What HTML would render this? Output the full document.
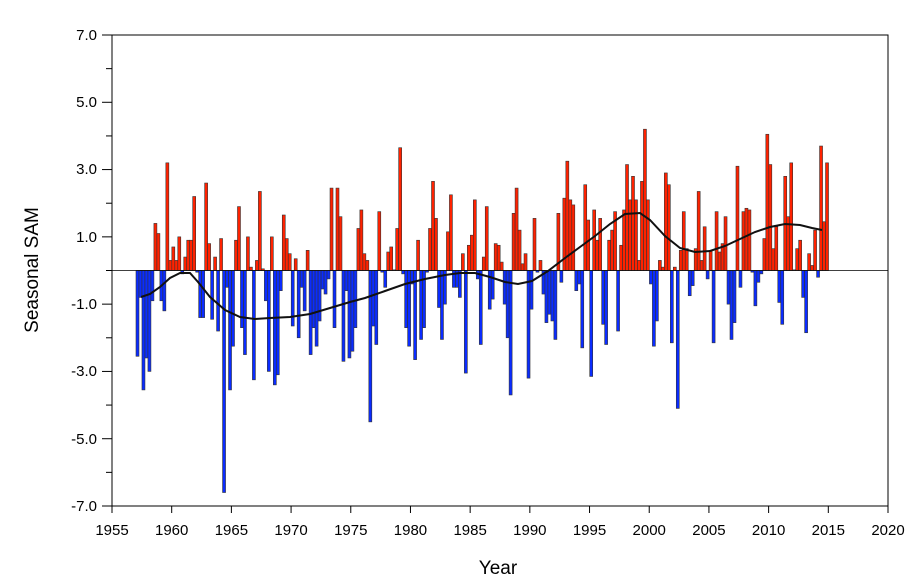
<!DOCTYPE html>
<html><head><meta charset="utf-8"><style>body{margin:0;background:#fff}svg{display:block}</style></head>
<body>
<svg width="924" height="580" xmlns="http://www.w3.org/2000/svg" font-family="Liberation Sans, sans-serif">
<g id="bars" stroke="#333" stroke-width="0.6"></g>
<line x1="112" y1="270.5" x2="888" y2="270.5" stroke="#000" stroke-width="0.8"/>
<polyline fill="none" stroke="#111" stroke-width="2" points="141,297 150,294 160,287 170,278 180,273 190,273 198,282 210,297 225,310 240,317 255,319 270,318 290,317 310,314 330,308 350,302 365,298 385,291 405,284 425,279 445,275 460,273 475,273 490,277 505,282 518,284 532,281 548,271 565,258 580,247 595,236 610,224 625,214 640,213 650,220 665,236 680,248 695,252 710,251 725,246 740,239 755,232 770,227 785,224 800,225 812,228 822,230"/>
<rect x="112" y="35" width="776" height="471" fill="none" stroke="#000" stroke-width="1"/>
<g id="ticks" stroke="#000" stroke-width="1"></g>
<g font-size="15" fill="#000" text-anchor="end">
<text x="97" y="40">7.0</text><text x="97" y="107">5.0</text><text x="97" y="174">3.0</text><text x="97" y="242">1.0</text><text x="97" y="309">-1.0</text><text x="97" y="376">-3.0</text><text x="97" y="444">-5.0</text><text x="97" y="511">-7.0</text>
</g>
<g id="xl" font-size="15" fill="#000" text-anchor="middle"></g>
<text x="498" y="574" font-size="19" text-anchor="middle">Year</text>
<text transform="translate(38,270) rotate(-90)" font-size="19" text-anchor="middle">Seasonal SAM</text>
<script>
var v=[-2.55,-0.8,-3.55,-2.6,-3.0,-0.9,1.4,1.1,-0.9,-1.2,3.2,0.3,0.7,0.3,1.0,-0.1,0.4,0.9,0.9,2.2,-0.05,-1.4,-1.4,2.6,0.8,-1.45,0.4,-1.8,0.95,-6.6,-0.5,-3.55,-2.25,0.9,1.9,-1.7,-2.5,
1.0,0.1,-3.25,0.3,2.35,0.05,-0.9,-3.0,1.0,-3.4,-3.1,-0.6,1.65,0.95,0.5,-1.65,0.35,-2.0,-0.5,-1.2,0.6,-2.5,-1.7,-2.25,-1.5,-0.55,-0.7,-0.25,2.45,-1.7,2.45,1.6,-2.7,-0.6,-2.6,-2.4,-1.7,1.25,
1.8,0.5,0.3,-4.5,-1.65,-2.2,1.75,-0.05,-0.5,0.55,0.7,0.02,1.25,3.65,-0.1,-1.7,-2.25,-0.4,-2.65,0.9,-2.05,-1.7,-0.05,1.25,2.65,1.55,-1.1,-2.05,-1.0,1.15,2.25,-0.5,-0.5,-0.8,0.5,-3.05,0.75,1.05,2.1,
-0.25,-2.2,0.4,1.9,-1.15,-0.85,0.8,0.75,0.25,-1.0,-2.0,-3.7,1.7,2.45,1.2,0.2,0.5,-3.2,-1.15,1.55,-0.05,0.3,-0.7,-1.55,-1.3,-1.5,-2.05,1.7,-0.35,2.15,3.25,2.1,1.95,-0.6,-0.4,-2.3,2.55,1.5,-3.15,
1.8,0.9,1.55,-1.6,-2.2,0.9,1.2,1.75,-1.8,0.75,1.8,3.15,2.1,2.8,2.1,0.3,2.65,4.2,2.1,-0.4,-2.25,-1.5,0.3,0.1,2.9,2.55,-2.15,0.1,-4.1,0.6,1.75,0.65,-0.75,-0.45,0.65,2.35,0.3,1.3,
-0.25,0.6,-2.15,1.75,0.55,0.8,1.6,-1.0,-2.05,-1.55,3.1,-0.5,1.75,1.85,1.8,-0.05,-1.05,-0.35,-0.1,0.95,4.05,3.15,0.65,1.3,-0.95,-1.6,2.8,1.6,3.2,0.02,0.65,0.9,-0.8,-1.85,0.5,0.15,1.2,-0.2,3.7,1.45,3.2];
var ns="http://www.w3.org/2000/svg",g=document.getElementById("bars"),z=270.5,s=33.64,w=2.985;
v.forEach(function(d,i){var r=document.createElementNS(ns,"rect");var h=Math.abs(d)*s;
r.setAttribute("x",136+i*w);r.setAttribute("width",w);r.setAttribute("y",d>0?z-h:z);r.setAttribute("height",h);
r.setAttribute("fill",d>0?"#ff2200":"#0a2cff");g.appendChild(r);});
var t=document.getElementById("ticks"),xl=document.getElementById("xl");
function L(a,b,c,d){var l=document.createElementNS(ns,"line");l.setAttribute("x1",a);l.setAttribute("y1",b);l.setAttribute("x2",c);l.setAttribute("y2",d);t.appendChild(l);}
for(var k=0;k<=14;k++){var y=35+k*471/14;L(112,y,k%2?106:102,y);}
for(var k=0;k<=13;k++){var x=112+k*776/13;L(x,506,x,513);var tx=document.createElementNS(ns,"text");tx.setAttribute("x",x);tx.setAttribute("y",535);tx.textContent=1955+5*k;xl.appendChild(tx);}
</script>
</svg>
</body></html>
